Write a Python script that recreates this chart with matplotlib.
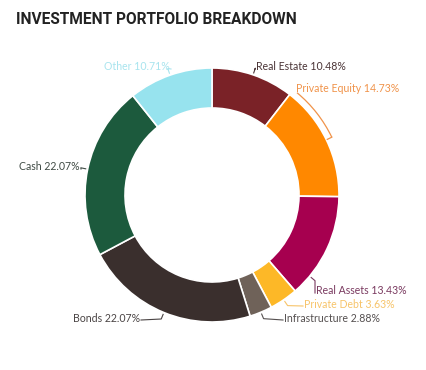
import numpy as np
import matplotlib
matplotlib.use('Agg')
import matplotlib.pyplot as plt
from matplotlib.patches import Arc

# data, clockwise from 12 o'clock
categories = ['Real Estate', 'Private Equity', 'Real Assets', 'Private Debt',
              'Infrastructure', 'Bonds', 'Cash', 'Other']
shares = [10.48, 14.73, 13.43, 3.63, 2.88, 22.07, 22.07, 10.71]

slice_colors = ['#7A2227', '#FF8800', '#A6004F', '#FDB827',
                '#6F6259', '#3A2F2D', '#1C5A3D', '#97E3EE']
label_colors = ['#4A3436', '#F0934A', '#7A3A60', '#F7C46A',
                '#555050', '#4A4444', '#3F4A44', '#A8E4EE']

# label placement in pixels (x, y from top, ha)
label_pos = [(256, 67, 'left'), (296, 89, 'left'), (316, 291, 'left'),
             (304, 304, 'left'), (284, 318, 'left'), (140, 318, 'right'),
             (80, 167, 'right'), (170, 67, 'right')]

W, H = 426, 370
CX, CY, R, RW = 212, 195, 127, 40

fig = plt.figure(figsize=(W / 100, H / 100), dpi=100)
fig.patch.set_facecolor('white')
ax = fig.add_axes([0, 0, 1, 1])
ax.set_xlim(0, W)
ax.set_ylim(0, H)
ax.set_aspect('equal')
ax.axis('off')

ax.pie(shares, colors=slice_colors, startangle=90, counterclock=False,
       radius=R, center=(CX, H - CY),
       wedgeprops=dict(width=RW, edgecolor='white', linewidth=1.2))
ax.set_xlim(0, W)
ax.set_ylim(0, H)

# connectors + labels
start = 90.0
for i, (name, v) in enumerate(zip(categories, shares)):
    span = v * 3.6
    mid = start - span / 2
    if name == 'Real Assets':
        mid = start - 39
    a = np.radians(mid)
    p0 = (CX + (R + 2) * np.cos(a), H - CY + (R + 2) * np.sin(a))
    p1 = (CX + (R + 7) * np.cos(a), H - CY + (R + 7) * np.sin(a))
    lx, ly, ha = label_pos[i]
    ly = H - ly
    if name == 'Private Equity':
        arc = Arc((CX, H - CY), 2 * (R + 6), 2 * (R + 6), theta1=mid,
                  theta2=start - 2, color=label_colors[i], lw=0.9)
        ax.add_patch(arc)
        e = np.radians(mid)
        ax.plot([CX + (R + 6) * np.cos(e), CX + (R + 1) * np.cos(e)],
                [H - CY + (R + 6) * np.sin(e), H - CY + (R + 1) * np.sin(e)],
                color=label_colors[i], lw=0.9)
    else:
        anchor_x = lx - 1 if ha == 'left' else lx + 1
        ax.plot([p0[0], p1[0], anchor_x], [p0[1], p1[1], ly - 2],
                color=label_colors[i], lw=0.8)
    ax.text(lx, ly, '%s %.2f%%' % (name, v), ha=ha, va='center',
            fontsize=7.6, family='Lato', color=label_colors[i])
    start -= span

fig.text(16 / W, 1 - 20 / H, 'INVESTMENT PORTFOLIO BREAKDOWN', ha='left',
         va='center', fontsize=11.2, fontweight='bold', family='Roboto',
         color='#222222')

fig.savefig('out.png', dpi=100, facecolor='white')
